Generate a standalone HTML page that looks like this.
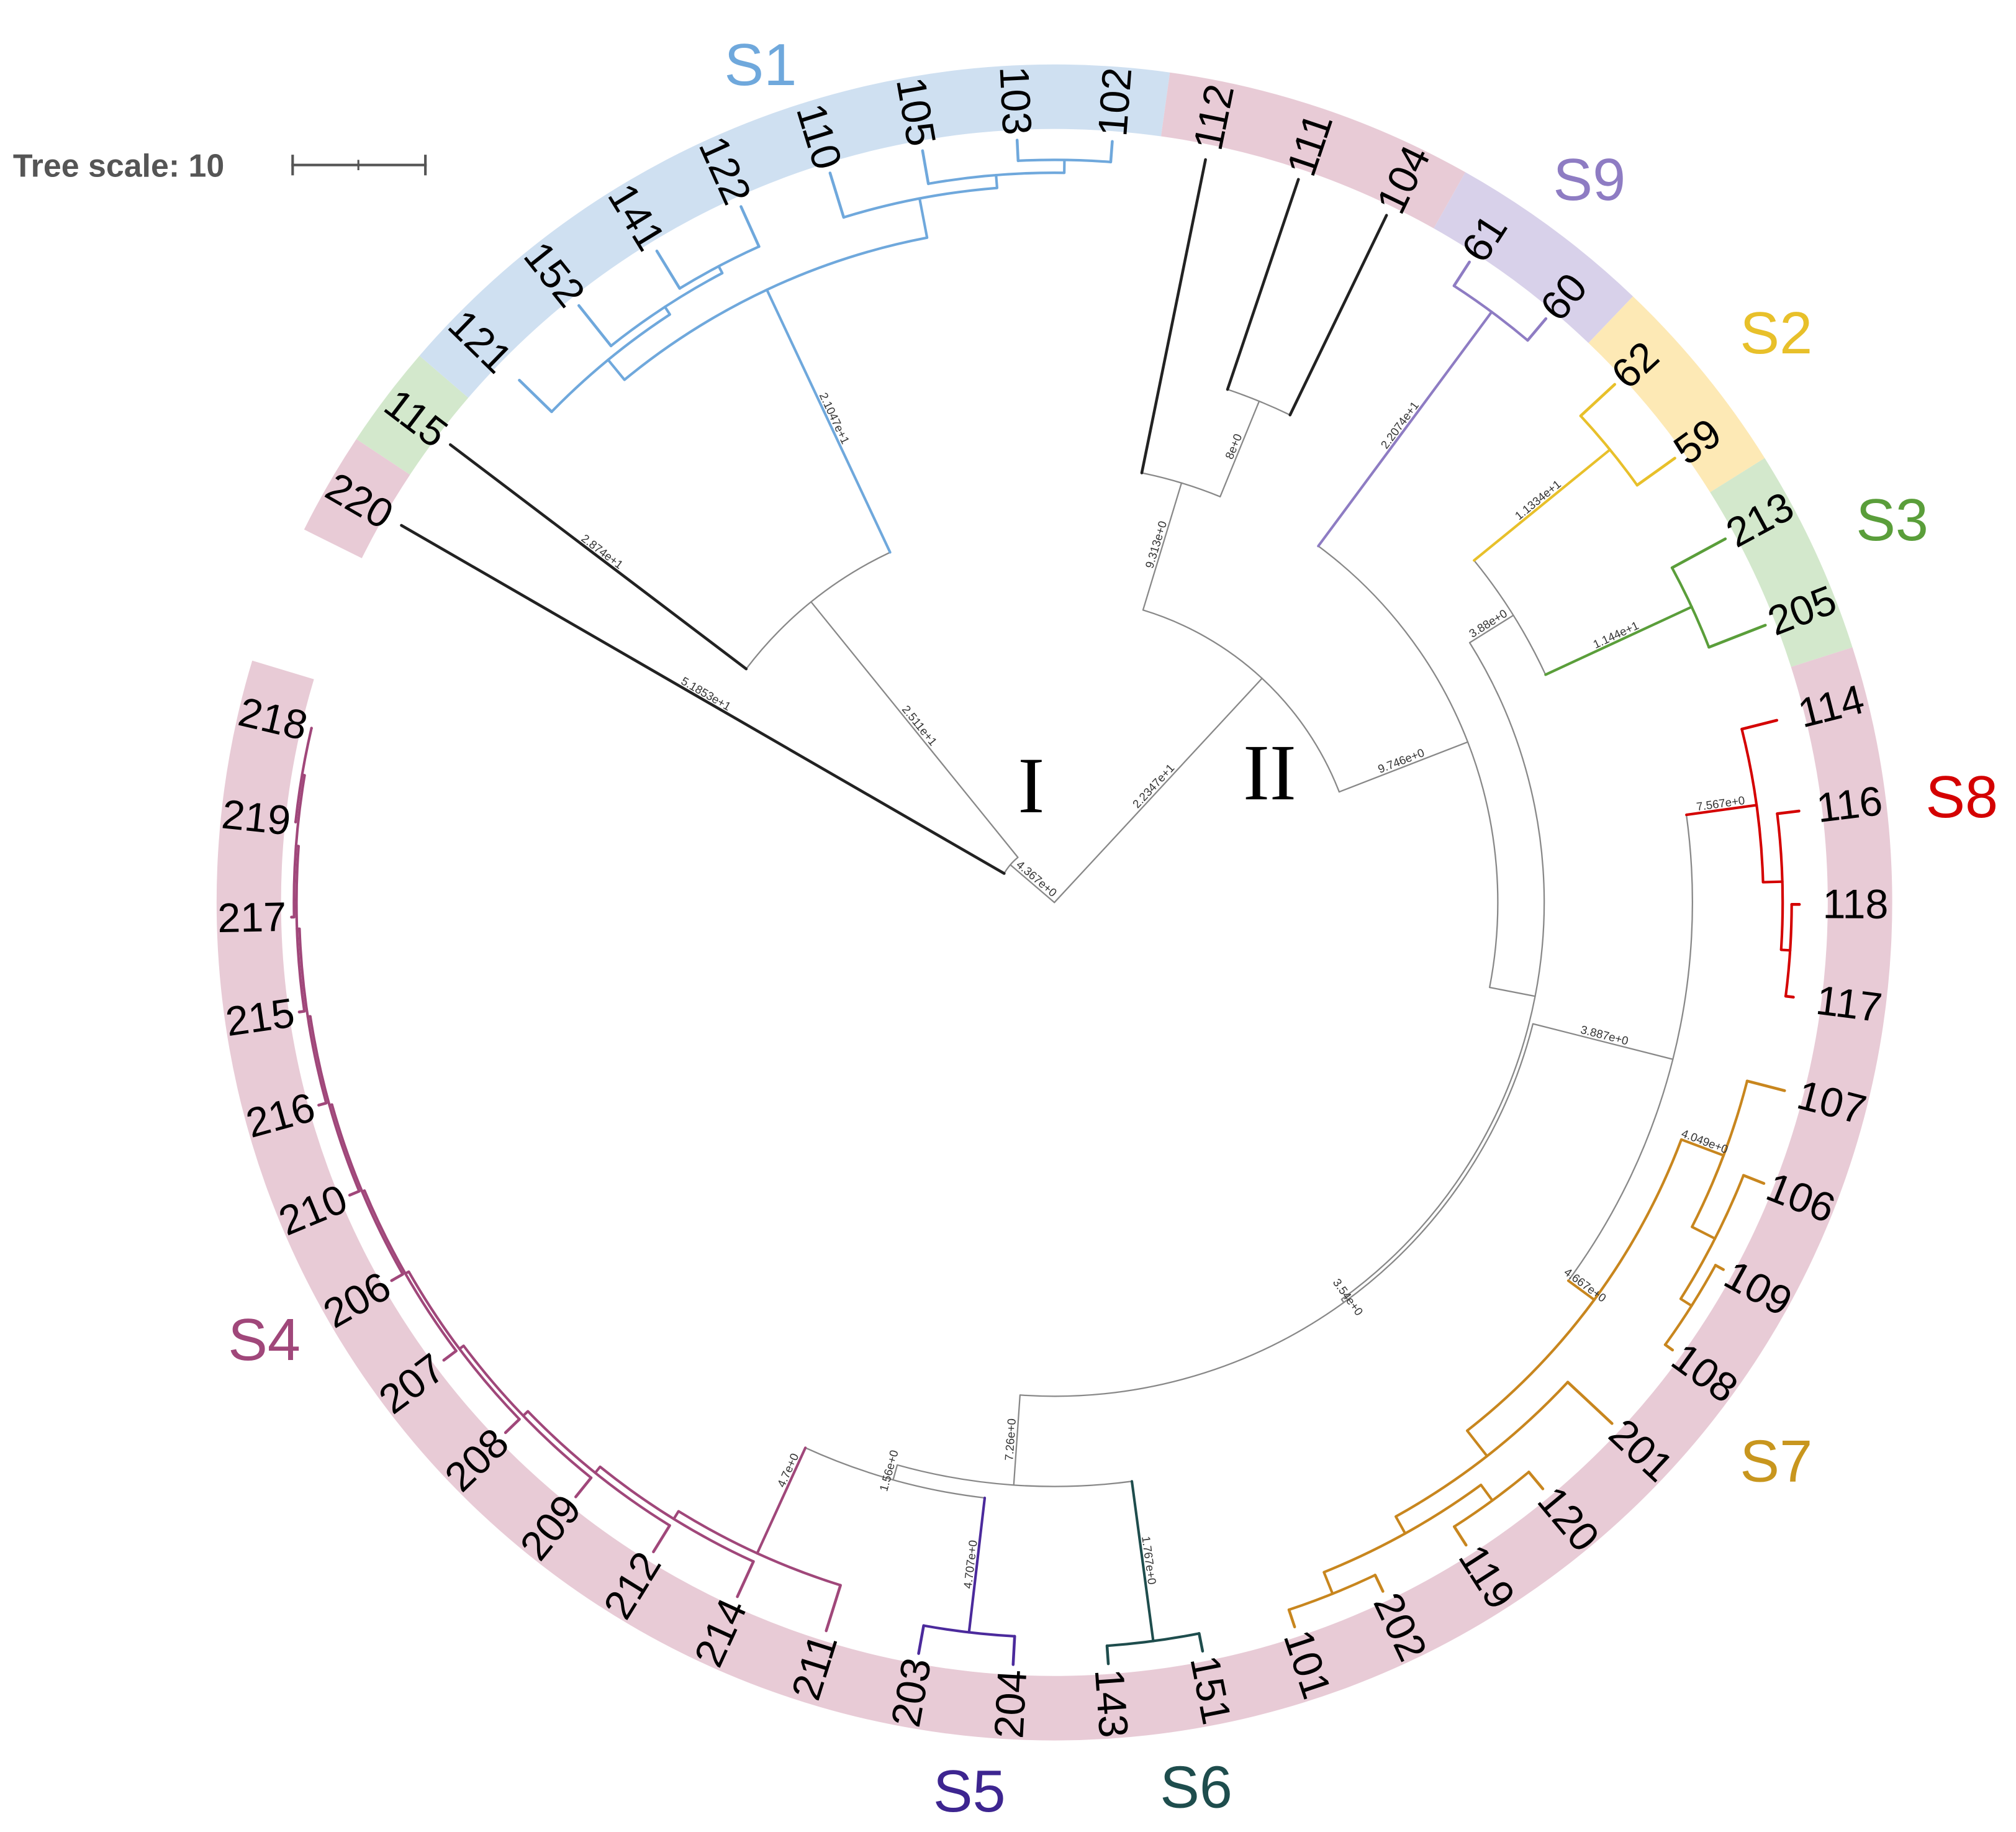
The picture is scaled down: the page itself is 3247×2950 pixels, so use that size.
<!DOCTYPE html>
<html><head><meta charset="utf-8"><title>Phylogenetic tree</title>
<style>html,body{margin:0;padding:0;background:#fff;}svg{display:block;}</style></head>
<body>
<svg id="chart" xmlns="http://www.w3.org/2000/svg" width="3247" height="2950" viewBox="0 0 1564 1421" font-family="Liberation Sans, sans-serif">
<rect width="1564" height="1421" fill="#fff"/>
<g id="ring"></g>
<g id="tree"></g>
<g id="blabels"></g>
<g id="leaves"></g>
<g>
<text x="10" y="137" font-size="25" font-weight="bold" fill="#555">Tree scale: 10</text>
<line x1="226" y1="128" x2="331" y2="128" stroke="#555" stroke-width="2"/>
<line x1="227" y1="120" x2="227" y2="136" stroke="#555" stroke-width="2"/>
<line x1="278" y1="124" x2="278" y2="132" stroke="#555" stroke-width="1.5"/>
<line x1="330" y1="120" x2="330" y2="136" stroke="#555" stroke-width="2"/>
</g>
<g font-size="46">
<text x="590" y="66" fill="#6fa8dc" text-anchor="middle">S1</text>
<text x="1233" y="155" fill="#8e7cc3" text-anchor="middle">S9</text>
<text x="1378" y="274" fill="#e8c02a" text-anchor="middle">S2</text>
<text x="1468" y="419" fill="#5a9e3a" text-anchor="middle">S3</text>
<text x="1522" y="634" fill="#d40000" text-anchor="middle">S8</text>
<text x="1378" y="1149" fill="#c8961e" text-anchor="middle">S7</text>
<text x="928" y="1402" fill="#1e4d4d" text-anchor="middle">S6</text>
<text x="752" y="1405" fill="#3d2590" text-anchor="middle">S5</text>
<text x="205" y="1055" fill="#a0477a" text-anchor="middle">S4</text>
</g>
<text x="800" y="630" font-family="Liberation Serif, serif" font-size="62" text-anchor="middle">I</text>
<text x="985" y="620" font-family="Liberation Serif, serif" font-size="62" text-anchor="middle">II</text>
</svg>
<script>
// leaf order (clockwise) and clade ring groups
const leafNames = ["220","115","121","152","141","122","110","105","103","102","112","111","104","61","60","62","59","213","205","114","116","118","117","107","106","109","108","201","120","119","202","101","151","143","204","203","211","214","212","209","208","207","206","210","216","215","217","219","218"];
const ringStart = [0,1,2,10,13,15,17,19];
const ringEnd = [0,1,9,12,14,16,18,48];
const ringColors = ["#e8cbd6","#d3e8cc","#cfe0f1","#e8cbd6","#d8d1ea","#fde9b5","#d3e8cc","#e8cbd6"];
// branch-length labels
const branchLabels = ["5.1853e+1","2.511e+1","2.874e+1","2.1047e+1","2.2347e+1","9.313e+0","9.746e+0","2.2074e+1","3.88e+0","1.1334e+1","1.144e+1","7.567e+0","7.26e+0","4.667e+0","1.56e+0","4.7e+0","1.767e+0","4.707e+0"];

const cx=818, cy=700, A0=-150, STEP=7.15, TIP=592;
const NS='http://www.w3.org/2000/svg';
function pt(r,a){const t=a*Math.PI/180;return [cx+r*Math.cos(t), cy+r*Math.sin(t)];}
function L(n,r){return {leaf:n,r:r||TIP};}
function N(r,kids,color,lbl){return {r:r,kids:kids,color:color,lbl:lbl};}
function lad(rs,names){ // ladder
  let node=N(rs[rs.length-1],[L(names[names.length-2]),L(names[names.length-1])]);
  for(let i=rs.length-2;i>=0;i--) node=N(rs[i],[L(names[i]),node]);
  return node;
}
const S1=N(525,[N(545,[L("121",580),N(552,[L("152"),N(558,[L("141"),L("122")])])]),N(556,[L("110"),N(566,[L("105"),N(576,[L("103"),L("102")])])])],"#6fa8dc","2.1047e+1");
const S9=N(570,[L("61"),L("60")],"#8e7cc3","2.2074e+1");
const S2=N(556,[L("62"),L("59")],"#e8c02a","1.1334e+1");
const S3=N(545,[L("213"),L("205")],"#5a9e3a","1.144e+1");
const S8=N(550,[L("114",578),N(565,[L("116",582),N(572,[L("118",578),L("117",578)])])],"#d40000","7.567e+0");
const S7=N(520,[N(555,[L("107",585),N(575,[L("106"),N(585,[L("109"),L("108")])])],null,"4.049e+0"),N(545,[L("201"),N(560,[N(575,[L("120"),L("119")]),N(578,[L("202"),L("101")])])])],"#c8861e","4.667e+0");
const S6=N(578,[L("151"),L("143")],"#1e4d4d","1.767e+0");
const S5=N(570,[L("204"),L("203")],"#4b2a9c","4.707e+0");
const S4=N(508,[lad([555,562,568,573,577,580,582,584,586,588,590,592],["211","214","212","209","208","207","206","210","216","215","217","219","218"])],"#a0477a","4.7e+0");
const root=N(0,[
  N(45,[L("220",585),N(300,[L("115",588),S1],null,"2.511e+1")],null,"4.367e+0"),
  N(237,[
    N(340,[L("112",588),N(420,[L("111"),L("104")],null,"8e+0")],null,"9.313e+0"),
    N(344,[S9,N(380,[N(420,[S2,S3],null,"3.88e+0"),N(383,[N(495,[S8,S7],null,"3.887e+0"),N(453,[S6,N(465,[S5,S4],null,"1.56e+0")],null,"7.26e+0")],null,"3.54e+0")])],null,"9.746e+0")
  ],null,"2.2347e+1")
]);
function assign(n){ if(n.leaf){n.a=A0+STEP*leafNames.indexOf(n.leaf);return;} n.kids.forEach(assign); n.a=(n.kids[0].a+n.kids[n.kids.length-1].a)/2; }
assign(root);
const tree=document.getElementById('tree'), bl=document.getElementById('blabels');
function line(r1,r2,a,col,w,name){
  const p=pt(r1,a),q=pt(r2,a);const e=document.createElementNS(NS,'line');
  e.setAttribute('x1',p[0]);e.setAttribute('y1',p[1]);e.setAttribute('x2',q[0]);e.setAttribute('y2',q[1]);
  e.setAttribute('stroke',col);e.setAttribute('stroke-width',w);e.setAttribute('stroke-linecap','round');
  
  
  tree.appendChild(e);
}
function arc(r,a1,a2,col,w){
  if(r<=0) return;
  const p=pt(r,a1),q=pt(r,a2);const e=document.createElementNS(NS,'path');
  e.setAttribute('d',`M${p[0]},${p[1]} A${r},${r} 0 ${(a2-a1)>180?1:0} 1 ${q[0]},${q[1]}`);
  e.setAttribute('fill','none');e.setAttribute('stroke',col);e.setAttribute('stroke-width',w);
  
  
  tree.appendChild(e);
}
function blabel(r1,r2,a,txt){
  const m=pt((r1+r2)/2,a);let rot=a; if(Math.cos(a*Math.PI/180)<0) rot=a+180;
  const t=document.createElementNS(NS,'text');
  t.setAttribute('x',m[0]);t.setAttribute('y',m[1]-2);t.setAttribute('font-size','9');t.setAttribute('fill','#333');
  t.setAttribute('text-anchor','middle');t.setAttribute('transform',`rotate(${rot} ${m[0]} ${m[1]})`);
  t.textContent=txt;
  
  
  bl.appendChild(t);
}
function draw(n,parentR,col){
  const c=n.color||col;
  const gray=(c==="#888");
  if(n.leaf){
    line(parentR,n.r,n.a,c,2.2,'branch-'+n.leaf);
    return;
  }
  if(n!==root) line(parentR,n.r,n.a,c,gray?1.1:2,'internal-branch');
  if(n.lbl && n!==root) blabel(parentR,n.r,n.a,n.lbl);
  arc(n.r,n.kids[0].a,n.kids[n.kids.length-1].a,c,gray?1.1:2);
  n.kids.forEach(k=>{
    if(k.leaf) draw(k,n.r,gray?"#222":c);
    else draw(k,n.r,k.color?k.color:c);
  });
}
draw(root,0,"#888");
blabel(45,585,leafNames.indexOf("220")*STEP+A0,"5.1853e+1");
blabel(300,588,leafNames.indexOf("115")*STEP+A0,"2.874e+1");
// ring
const ring=document.getElementById('ring');
for(let i=0;i<ringStart.length;i++){
  const a1=A0+STEP*ringStart[i]-STEP/2, a2=A0+STEP*ringEnd[i]+STEP/2, r1=600, r2=650;
  const p1=pt(r2,a1),p2=pt(r2,a2),p3=pt(r1,a2),p4=pt(r1,a1);const lg=(a2-a1)>180?1:0;
  const e=document.createElementNS(NS,'path');
  e.setAttribute('d',`M${p1[0]},${p1[1]} A${r2},${r2} 0 ${lg} 1 ${p2[0]},${p2[1]} L${p3[0]},${p3[1]} A${r1},${r1} 0 ${lg} 0 ${p4[0]},${p4[1]} Z`);
  e.setAttribute('fill',ringColors[i]);
  
  
  ring.appendChild(e);
}
// leaf labels
const lv=document.getElementById('leaves');
leafNames.forEach((nm,i)=>{
  const a=A0+STEP*i;const right=Math.cos(a*Math.PI/180)>=0;
  const p=pt(596,a);
  const t=document.createElementNS(NS,'text');
  t.setAttribute('x',p[0]);t.setAttribute('y',p[1]);t.setAttribute('font-size','32');
  t.setAttribute('dominant-baseline','central');
  t.setAttribute('text-anchor',right?'start':'end');
  t.setAttribute('transform',`rotate(${right?a:a+180} ${p[0]} ${p[1]})`);
  t.textContent=nm;
  
  
  lv.appendChild(t);
});
</script>
</body></html>
